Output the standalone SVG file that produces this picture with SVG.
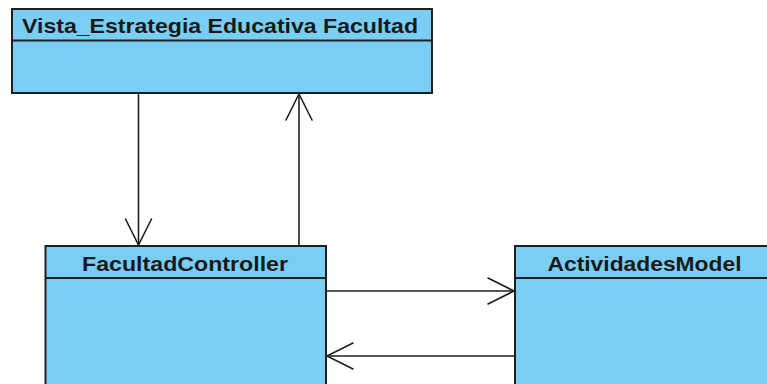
<svg xmlns="http://www.w3.org/2000/svg" width="767" height="384" viewBox="0 0 767 384">
  <style>
    .box { fill: #7ACEF4; stroke: #1f1f1f; stroke-width: 2; }
    .div { stroke: #1f1f1f; stroke-width: 2; fill: none; }
    .title { font-family: "Liberation Sans", Arial, sans-serif; font-weight: bold; font-size: 21px; fill: #1a1a1a; text-anchor: start; }
    .edge { stroke: #1f1f1f; stroke-width: 1.6; fill: none; }
    .head { stroke: #1f1f1f; stroke-width: 1.6; fill: none; stroke-linecap: round; stroke-linejoin: miter; }
  </style>
  <rect width="767" height="384" fill="#ffffff"/>

  <!-- view class -->
  <g id="vista">
    <rect class="box" x="12" y="9" width="420" height="84"/>
    <line class="div" x1="12" y1="40.5" x2="432" y2="40.5"/>
    <text class="title" x="22" y="33" textLength="396" lengthAdjust="spacingAndGlyphs">Vista_Estrategia Educativa Facultad</text>
  </g>

  <!-- controller class -->
  <g id="facultad-controller">
    <rect class="box" x="45.5" y="246" width="280.5" height="150"/>
    <line class="div" x1="45.5" y1="278" x2="326" y2="278"/>
    <text class="title" x="82" y="271" textLength="206" lengthAdjust="spacingAndGlyphs">FacultadController</text>
  </g>

  <!-- model class -->
  <g id="actividades-model">
    <rect class="box" x="515" y="246" width="270" height="150"/>
    <line class="div" x1="515" y1="278" x2="785" y2="278"/>
    <text class="title" x="547.5" y="271" textLength="194" lengthAdjust="spacingAndGlyphs">ActividadesModel</text>
  </g>

  <!-- connectors -->
  <g id="connectors">
    <!-- view to controller -->
    <line class="edge" x1="138.5" y1="93" x2="138.5" y2="245"/>
    <polyline class="head" points="125.5,219 138.5,245 151.5,219"/>
    <!-- controller to view -->
    <line class="edge" x1="299" y1="245" x2="299" y2="94"/>
    <polyline class="head" points="286,120 299,94 312,120"/>
    <!-- controller to model -->
    <line class="edge" x1="326" y1="291" x2="514" y2="291"/>
    <polyline class="head" points="488,278 514,291 488,304"/>
    <!-- model to controller -->
    <line class="edge" x1="515" y1="356" x2="327" y2="356"/>
    <polyline class="head" points="353,343 327,356 353,369"/>
  </g>
</svg>
